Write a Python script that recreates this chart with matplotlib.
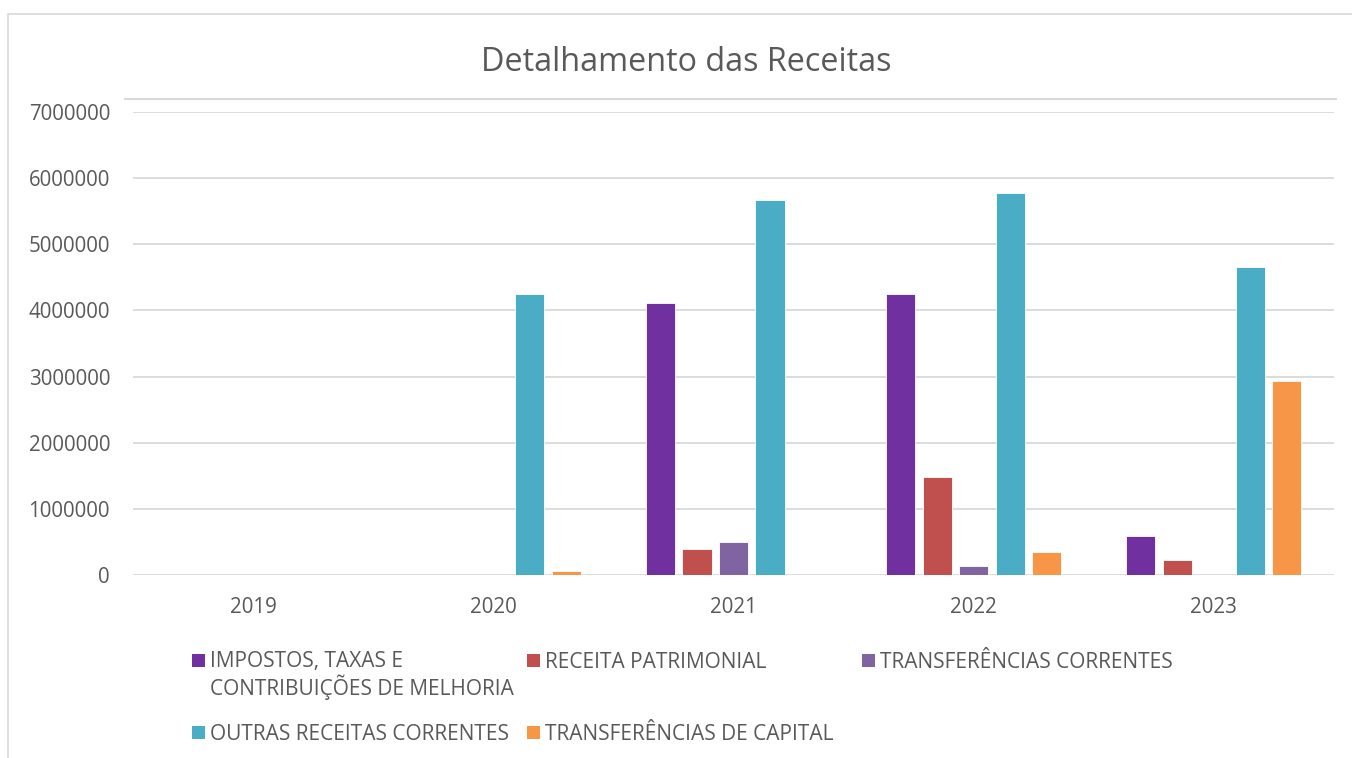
import matplotlib
matplotlib.use("Agg")
import matplotlib.pyplot as plt
from matplotlib.patches import Rectangle
from matplotlib.lines import Line2D
import numpy as np

years = ["2019", "2020", "2021", "2022", "2023"]
series_names = [
    "IMPOSTOS, TAXAS E\nCONTRIBUIÇÕES DE MELHORIA",
    "RECEITA PATRIMONIAL",
    "TRANSFERÊNCIAS CORRENTES",
    "OUTRAS RECEITAS CORRENTES",
    "TRANSFERÊNCIAS DE CAPITAL",
]
impostos = [0, 0, 4110000, 4250000, 590000]
receita_patrimonial = [0, 0, 400000, 1480000, 225000]
transf_correntes = [0, 0, 500000, 135000, 0]
outras_receitas = [0, 4250000, 5670000, 5780000, 4660000]
transf_capital = [0, 60000, 0, 355000, 2930000]
yticks = [0, 1000000, 2000000, 3000000, 4000000, 5000000, 6000000, 7000000]
colors = ["#7030A0", "#C0504D", "#8064A2", "#4BACC6", "#F79646"]

values = [impostos, receita_patrimonial, transf_correntes, outras_receitas, transf_capital]

W, H = 1352, 758
plt.rcParams['font.family'] = ['Open Sans', 'DejaVu Sans']
fig = plt.figure(figsize=(W / 100, H / 100), dpi=100)
text_color = "#595959"
grid_color = "#D9D9D9"

# chart border
fig.add_artist(Rectangle((8 / W, -0.1), 1.2, 1 - 14 / H + 0.1, transform=fig.transFigure,
                         fill=False, edgecolor=grid_color, linewidth=1.2))
# top separator line
fig.add_artist(Line2D([125 / W, 1336 / W], [1 - 99 / H, 1 - 99 / H], transform=fig.transFigure,
                      color=grid_color, linewidth=1.5))

ax_left, ax_right = 133 / W, 1334 / W
ax_bottom, ax_top = 1 - 575 / H, 1 - 112 / H
ax = fig.add_axes([ax_left, ax_bottom, ax_right - ax_left, ax_top - ax_bottom])

x = np.arange(len(years))
step = 0.152
width = 0.121
for i, (vals, c) in enumerate(zip(values, colors)):
    ax.bar(x + (i - 2) * step, vals, width=width, color=c, edgecolor="white", linewidth=0.6, zorder=3)

ax.set_xlim(-0.5, 4.5)
ax.set_ylim(0, 7000000)
ax.set_yticks(yticks)
ax.set_yticklabels([str(v) for v in yticks])
ax.set_xticks(x)
ax.set_xticklabels(years)
ax.grid(axis="y", color=grid_color, linewidth=1.3, zorder=0)
for s in ax.spines.values():
    s.set_visible(False)
ax.tick_params(axis="both", length=0, labelsize=14.8, colors=text_color)
ax.tick_params(axis="y", pad=16.5)
ax.tick_params(axis="x", pad=16)

fig.text(686 / W, 1 - 71 / H, "Detalhamento das Receitas", ha="center", va="baseline",
         fontsize=23.3, color=text_color)

# legend (manual layout)
leg_pos = [(192, 660), (527, 660), (862, 660), (192, 732), (527, 732)]
for (px, py), name, c in zip(leg_pos, series_names, colors):
    fig.add_artist(Rectangle((px / W, 1 - (py + 6.5) / H), 13 / W, 13 / H, transform=fig.transFigure,
                             facecolor=c, edgecolor="none"))
    for k, line in enumerate(name.split("\n")):
        fig.text((px + 18) / W, 1 - (py + 7.5 + 28 * k) / H, line, ha="left", va="baseline",
                 fontsize=15, color=text_color)

fig.savefig("out.png", dpi=100)
